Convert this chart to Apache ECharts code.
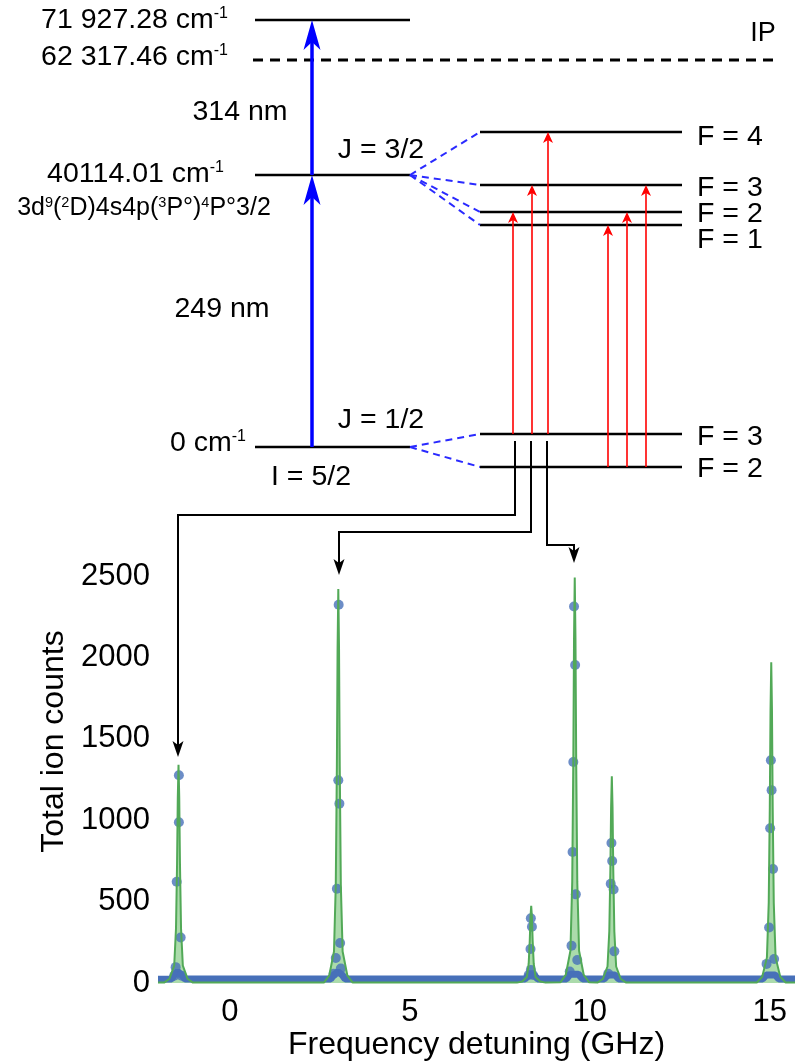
<!DOCTYPE html>
<html><head><meta charset="utf-8">
<script src="https://cdn.jsdelivr.net/npm/echarts@6/dist/echarts.min.js"></script>
<style>html,body{margin:0;padding:0;background:#fff}#c{width:796px;height:1062px}</style>
</head><body><div id="c"></div>
<script>
const FONT = '"Liberation Sans", Arial, sans-serif';

// ---------------- Spectrum data ----------------
const xTickValues = [0, 5, 10, 15];
const yTickValues = [0, 500, 1000, 1500, 2000, 2500];

// fitted curve [GHz, counts]
const fitCurve = [
  [-2.0, 3], [-1.83, 3], [-1.68, 27], [-1.55, 107], [-1.50, 335], [-1.47, 737], [-1.45, 1140], [-1.43, 1340], [-1.41, 1140], [-1.39, 737], [-1.36, 335], [-1.31, 107], [-1.18, 27], [-1.03, 3],
  [2.61, 3], [2.76, 48], [2.89, 194], [2.94, 605], [2.97, 1331], [2.99, 2057], [3.01, 2420], [3.03, 2057], [3.05, 1331], [3.08, 605], [3.13, 194], [3.26, 48], [3.41, 3],
  [7.97, 3], [8.12, 10], [8.25, 38], [8.30, 119], [8.33, 261], [8.35, 404], [8.37, 475], [8.39, 404], [8.41, 261], [8.44, 119], [8.49, 38], [8.62, 10], [8.77, 3],
  [9.18, 5], [9.33, 50], [9.46, 199], [9.51, 623], [9.54, 1370], [9.56, 2117], [9.58, 2490], [9.60, 2117], [9.62, 1370], [9.65, 623], [9.70, 199], [9.83, 50], [9.98, 5],
  [10.21, 3], [10.36, 25], [10.49, 102], [10.54, 318], [10.57, 699], [10.59, 1080], [10.61, 1270], [10.63, 1080], [10.65, 699], [10.68, 318], [10.73, 102], [10.86, 25], [11.01, 3],
  [14.64, 4], [14.79, 39], [14.92, 158], [14.97, 493], [15.0, 1084], [15.02, 1675], [15.04, 1970], [15.06, 1675], [15.08, 1084], [15.11, 493], [15.16, 158], [15.29, 39], [15.44, 4], [15.7, 3]
];

// measured points on the peaks [GHz, counts]
const measuredPeaks = [
  [-1.42, 1276], [-1.42, 988], [-1.48, 622], [-1.37, 280], [-1.51, 98], [-1.55, 45], [-1.34, 45],
  [3.02, 2323], [3.01, 1246], [3.04, 1102], [2.97, 579], [3.06, 246], [2.94, 154], [3.08, 90], [2.88, 57],
  [8.36, 398], [8.39, 346], [8.35, 209], [8.36, 81], [8.30, 50], [8.42, 50],
  [9.56, 2313], [9.59, 1953], [9.54, 1358], [9.52, 805], [9.61, 545], [9.49, 230], [9.65, 142], [9.44, 71],
  [10.60, 860], [10.62, 750], [10.58, 610], [10.66, 575], [10.68, 195], [10.51, 57],
  [15.03, 1368], [15.05, 1185], [15.01, 951], [15.09, 701], [14.98, 341], [15.12, 148], [14.91, 118]
];

// measured baseline (dense points) [GHz, counts]
const measuredBaseline = [
  [-2.0, 24], [-1.62, 25], [-1.55, 50], [-1.45, 70], [-1.32, 45], [-1.25, 25],
  [2.8, 25], [2.88, 50], [3.0, 70], [3.12, 50], [3.2, 25],
  [8.2, 25], [8.3, 50], [8.45, 50], [8.55, 25],
  [9.35, 25], [9.45, 55], [9.68, 55], [9.8, 25],
  [10.4, 25], [10.5, 50], [10.7, 50], [10.8, 25],
  [14.8, 25], [14.9, 50], [15.15, 50], [15.25, 25], [15.7, 25]
];

// ---------------- Level diagram (schematic units) ----------------
const levelLines = [ // [x1, x2, y]
  [255, 410, 20], [255, 410, 175], [255, 410, 447],
  [480, 682, 132], [480, 682, 185], [480, 682, 212], [480, 682, 225],
  [480, 682, 434], [480, 682, 467]
];
const ionizationLine = [[253, 778, 60]];
const splittingLines = [ // [x1, y1, x2, y2]
  [410, 175, 480, 132], [410, 175, 480, 185], [410, 175, 480, 212], [410, 175, 480, 225],
  [410, 447, 480, 434], [410, 447, 480, 467]
];
const laserArrows = [ // [x1, y1, x2, y2]
  [312, 447, 312, 175], [312, 175, 312, 20]
];
const hyperfineArrows = [
  [513, 434, 513, 212], [532, 434, 532, 185], [548, 434, 548, 132],
  [608, 467, 608, 225], [627, 467, 627, 212], [646, 467, 646, 185]
];
const peakArrows = [
  [[515, 441], [515, 515], [178, 515], [178, 757]],
  [[531, 441], [531, 532], [339, 532], [339, 575]],
  [[547, 441], [547, 545], [574, 545], [574, 563]]
];
const diagramTexts = [
  '71 927.28 cm{sup|-1}', '62 317.46 cm{sup|-1}', 'IP', '314 nm', 'J = 3/2',
  '40114.01 cm{sup|-1}', '3d{s|9}({s|2}D)4s4p({s|3}P°){s|4}P°3/2', '249 nm',
  'J = 1/2', '0 cm{sup|-1}', 'I = 5/2',
  'F = 4', 'F = 3', 'F = 2', 'F = 1', 'F = 3', 'F = 2'
];
const diagramTextAnchors = [ // [x, y]
  [228, 20], [228, 57], [763, 34], [240, 112], [381, 150],
  [224, 174], [144, 208], [222, 309],
  [381, 420], [246, 443], [311, 477],
  [697, 137], [697, 188], [697, 214], [697, 240], [697, 437], [697, 469]
];
const diagramTextAlign = ['right', 'right', 'center', 'center', 'center', 'right', 'center', 'center', 'center', 'right', 'center', 'left', 'left', 'left', 'left', 'left', 'left'];
const diagramTextSize = [28.5, 28.5, 27, 28.5, 28.5, 28.5, 25, 28.5, 28.5, 28.5, 28.5, 28.5, 28.5, 28.5, 28.5, 28.5, 28.5];

// ---------------- helpers ----------------
function arrowEls(api, pts, head, color, width) {
  const px = pts.map(p => api.coord(p));
  const n = px.length;
  const tip = px[n - 1], prev = px[n - 2];
  const dx = tip[0] - prev[0], dy = tip[1] - prev[1];
  const L = Math.hypot(dx, dy) || 1;
  const ux = dx / L, uy = dy / L, nx = -uy, ny = ux;
  const len = head[0], hw = head[1], notch = head[2];
  const back = [tip[0] - ux * len, tip[1] - uy * len];
  const inner = [tip[0] - ux * (len - notch), tip[1] - uy * (len - notch)];
  const shaft = px.slice(0, n - 1).concat([inner]);
  return [
    { type: 'polyline', shape: { points: shaft }, style: { stroke: color, lineWidth: width, fill: null } },
    { type: 'polygon', shape: { points: [tip, [back[0] + nx * hw, back[1] + ny * hw], inner, [back[0] - nx * hw, back[1] - ny * hw]] }, style: { fill: color, stroke: null } }
  ];
}

const BLUE = '#4770b9';
const GREEN = '#52a957';

const option = {
  animation: false,
  backgroundColor: '#fff',
  grid: [
    { left: 158, right: 1, top: 576, bottom: 76 },
    { left: 0, top: 0, width: 796, height: 1062 }
  ],
  xAxis: [
    {
      gridIndex: 0, type: 'value', min: -2, max: 15.7,
      axisLine: { show: false }, axisTick: { show: false }, splitLine: { show: false },
      axisLabel: { customValues: xTickValues, fontSize: 31, color: '#000', fontFamily: FONT, margin: 14 },
      name: 'Frequency detuning (GHz)', nameLocation: 'middle', nameGap: 40,
      nameTextStyle: { fontSize: 32, color: '#000', fontFamily: FONT }
    },
    { gridIndex: 1, type: 'value', min: 0, max: 796, show: false }
  ],
  yAxis: [
    {
      gridIndex: 0, type: 'value', min: 0, max: 2500, interval: 500,
      axisLine: { show: false }, axisTick: { show: false }, splitLine: { show: false },
      axisLabel: { fontSize: 31, color: '#000', fontFamily: FONT, margin: 8, formatter: v => String(v) },
      name: 'Total ion counts', nameLocation: 'middle', nameGap: 84, nameRotate: 90,
      nameTextStyle: { fontSize: 32, color: '#000', fontFamily: FONT, padding: [0, 0, 0, 76] }
    },
    { gridIndex: 1, type: 'value', min: 0, max: 1062, inverse: true, show: false }
  ],
  series: [
    {
      type: 'line', xAxisIndex: 0, yAxisIndex: 0, data: fitCurve,
      showSymbol: false, lineStyle: { width: 0, color: GREEN },
      areaStyle: { color: 'rgba(105,190,105,0.8)' }, z: 1, silent: true
    },
    {
      type: 'line', xAxisIndex: 0, yAxisIndex: 0, data: measuredBaseline,
      showSymbol: false, lineStyle: { color: BLUE, width: 7 }, z: 2, silent: true
    },
    {
      type: 'scatter', xAxisIndex: 0, yAxisIndex: 0, data: measuredPeaks,
      symbolSize: 10, itemStyle: { color: BLUE }, z: 3, silent: true
    },
    {
      type: 'line', xAxisIndex: 0, yAxisIndex: 0, data: fitCurve,
      showSymbol: false, lineStyle: { color: GREEN, width: 2 }, z: 4, silent: true
    },
    {
      type: 'custom', xAxisIndex: 1, yAxisIndex: 1, data: levelLines, silent: true, z: 10,
      renderItem: (p, api) => {
        const d = levelLines[p.dataIndex];
        return { type: 'polyline', shape: { points: [api.coord([d[0], d[2]]), api.coord([d[1], d[2]])] }, style: { stroke: '#000', lineWidth: 2.6, fill: null } };
      }
    },
    {
      type: 'custom', xAxisIndex: 1, yAxisIndex: 1, data: ionizationLine, silent: true, z: 10,
      renderItem: (p, api) => {
        const d = ionizationLine[p.dataIndex];
        return { type: 'polyline', shape: { points: [api.coord([d[0], d[2]]), api.coord([d[1], d[2]])] }, style: { stroke: '#000', lineWidth: 2.8, lineDash: [10, 7], fill: null } };
      }
    },
    {
      type: 'custom', xAxisIndex: 1, yAxisIndex: 1, data: splittingLines, silent: true, z: 10,
      renderItem: (p, api) => {
        const d = splittingLines[p.dataIndex];
        return { type: 'polyline', shape: { points: [api.coord([d[0], d[1]]), api.coord([d[2], d[3]])] }, style: { stroke: '#2a2aff', lineWidth: 2, lineDash: [7, 5], fill: null } };
      }
    },
    {
      type: 'custom', xAxisIndex: 1, yAxisIndex: 1, data: laserArrows, silent: true, z: 11,
      renderItem: (p, api) => {
        const d = laserArrows[p.dataIndex];
        return { type: 'group', children: arrowEls(api, [[d[0], d[1]], [d[2], d[3]]], [30, 8.5, 8], '#0000ff', 3.5) };
      }
    },
    {
      type: 'custom', xAxisIndex: 1, yAxisIndex: 1, data: hyperfineArrows, silent: true, z: 11,
      renderItem: (p, api) => {
        const d = hyperfineArrows[p.dataIndex];
        return { type: 'group', children: arrowEls(api, [[d[0], d[1]], [d[2], d[3]]], [11, 5, 3], '#ff0000', 1.6) };
      }
    },
    {
      type: 'custom', xAxisIndex: 1, yAxisIndex: 1, data: peakArrows.map(a => a[0]), silent: true, z: 11,
      renderItem: (p, api) => {
        const d = peakArrows[p.dataIndex];
        return { type: 'group', children: arrowEls(api, d, [16, 5.5, 4], '#000', 2) };
      }
    },
    {
      type: 'custom', xAxisIndex: 1, yAxisIndex: 1, data: diagramTextAnchors, silent: true, z: 12,
      renderItem: (p, api) => {
        const i = p.dataIndex;
        const c = api.coord(diagramTextAnchors[i]);
        const fs = diagramTextSize[i];
        return {
          type: 'text', x: c[0], y: c[1],
          style: {
            text: diagramTexts[i], fill: '#000', fontSize: fs, fontFamily: FONT,
            align: diagramTextAlign[i], verticalAlign: 'middle',
            rich: {
              sup: { fontSize: 16, fontFamily: FONT, fill: '#000', verticalAlign: 'top' },
              s: { fontSize: 14.5, fontFamily: FONT, fill: '#000', verticalAlign: 'top' }
            }
          }
        };
      }
    }
  ]
};

const chart = echarts.init(document.getElementById('c'), null, { renderer: 'canvas' });
chart.setOption(option);
</script>
</body></html>
